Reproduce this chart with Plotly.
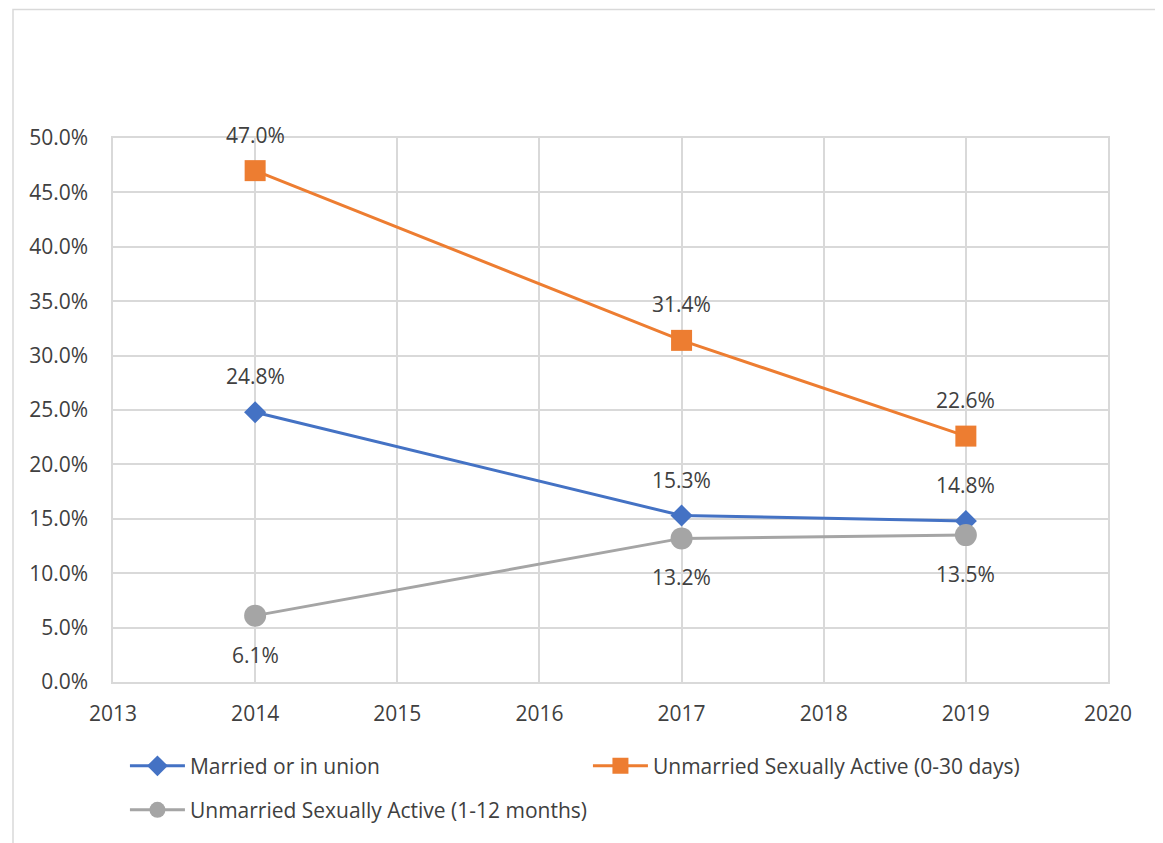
import plotly.graph_objects as go

# data
years = [2014, 2017, 2019]
married = [0.248, 0.153, 0.148]
unmarried_30d = [0.470, 0.314, 0.226]
unmarried_12m = [0.061, 0.132, 0.135]

C_BLUE = "#4472c4"
C_ORANGE = "#ed7d31"
C_GRAY = "#a5a5a5"
C_TEXT = "#404040"
C_GRID = "#d9d9d9"
FONT = "Open Sans"
FS = 21

fig = go.Figure()

series = [
    ("Married or in union", married, C_BLUE, "diamond", 17, 36, "legend"),
    ("Unmarried Sexually Active (0-30 days)", unmarried_30d, C_ORANGE, "square", 21, 36, "legend"),
    ("Unmarried Sexually Active (1-12 months)", unmarried_12m, C_GRAY, "circle", 22, -39, "legend2"),
]
for name, vals, col, sym, size, shift, leg in series:
    fig.add_trace(go.Scatter(
        x=years, y=vals, name=name, mode="lines+markers",
        line=dict(color=col, width=3),
        marker=dict(color=col, symbol=sym, size=size), legend=leg))
    # data labels
    for x, v in zip(years, vals):
        fig.add_annotation(x=x, y=v, text=f"{v:.1%}", showarrow=False,
                           yshift=shift, font=dict(color=C_TEXT, size=FS, family=FONT))

# outer chart border
fig.add_shape(type="rect", xref="paper", yref="paper",
              x0=-0.1005, x1=1.0533, y0=-0.32, y1=1.2363,
              line=dict(color=C_GRID, width=1.5), layer="below")

fig.update_xaxes(range=[2013, 2020], dtick=1, showgrid=True, gridcolor=C_GRID,
                 gridwidth=1.5, zeroline=False, showline=True, linecolor=C_GRID,
                 linewidth=1.5, mirror=True, ticks="", ticklabelstandoff=12,
                 tickfont=dict(color=C_TEXT, size=FS, family=FONT))
fig.update_yaxes(range=[0, 0.5], dtick=0.05, tickformat=".1%", showgrid=True,
                 gridcolor=C_GRID, gridwidth=1.5, zeroline=False, showline=True,
                 linecolor=C_GRID, linewidth=1.5, mirror=True, ticks="",
                 ticklabelstandoff=19,
                 tickfont=dict(color=C_TEXT, size=FS, family=FONT))

leg_common = dict(orientation="h", x=0.012, xanchor="left", yanchor="top",
                  entrywidth=393, entrywidthmode="pixels", itemwidth=55,
                  font=dict(color=C_TEXT, size=FS, family=FONT))
fig.update_layout(
    width=1156, height=835,
    margin=dict(l=105, r=56, t=130, b=158),
    plot_bgcolor="white", paper_bgcolor="white",
    font=dict(family=FONT, color=C_TEXT, size=FS),
    legend=dict(y=-0.117, **leg_common),
    legend2=dict(y=-0.198, **leg_common),
    showlegend=True,
)

fig.write_html("out.html")
